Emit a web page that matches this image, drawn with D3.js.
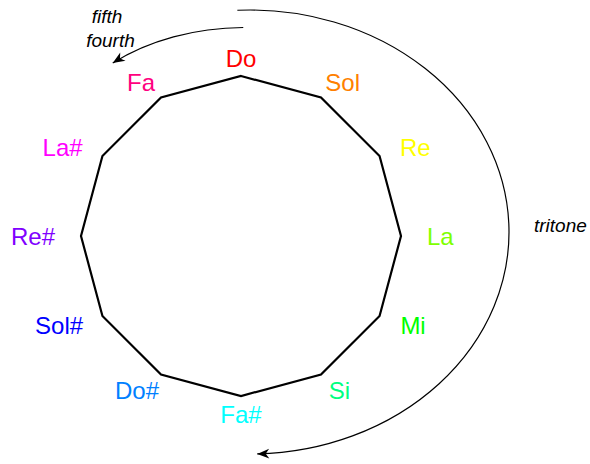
<!DOCTYPE html>
<html>
<head>
<meta charset="utf-8">
<script src="https://cdn.jsdelivr.net/npm/d3@7"></script>
<style>
    body { margin: 0; background: #fff; }
    svg { display: block; font-family: Arial, "Liberation Sans", sans-serif; }
</style>
</head>
<body>
<svg id="circle"></svg>
<script>
// notes in order of the circle of fifths, clockwise from the top
let notes = ["Do", "Sol", "Re", "La", "Mi", "Si", "Fa#", "Do#", "Sol#", "Re#", "La#", "Fa"];
let noteColors = ["#ff0000", "#ff8000", "#ffff00", "#80ff00", "#00ff00", "#00ff80",
                  "#00ffff", "#0080ff", "#0000ff", "#8000ff", "#ff00ff", "#ff0080"];
let stepLabels = ["fifth", "fourth"];
let tritoneLabel = "tritone";

function drawCircle(width, height) {
    let svg = d3.select("#circle")
                .attr("width", width)
                .attr("height", height);

    let center = { x: 241, y: 236 };
    let radius = 160;

    // index of note -> angle, clockwise from top
    let angle = d3.scaleLinear()
                    .domain([0, notes.length])
                    .range([0, 2 * Math.PI]);

    // arrow head used by both arcs
    svg.append("defs")
        .append("marker")
            .attr("id", "arrow")
            .attr("viewBox", "-13 -6 14 12")
            .attr("refX", 0)
            .attr("refY", 0)
            .attr("markerWidth", 14)
            .attr("markerHeight", 12)
            .attr("markerUnits", "userSpaceOnUse")
            .attr("orient", "auto")
        .append("path")
            .attr("d", "M0,0 L-12,-5 L-8.5,0 L-12,5 Z")
            .attr("fill", "#000");

    let g = svg.append("g")
                .attr("transform", `translate(${center.x},${center.y})`);

    // the dodecagon
    let polygon = d3.lineRadial()
                    .angle((d, i) => angle(i))
                    .radius(radius)
                    .curve(d3.curveLinearClosed);

    g.append("path")
        .datum(notes)
        .attr("d", polygon)
        .attr("fill", "none")
        .attr("stroke", "#000")
        .attr("stroke-width", 2.2)
        .attr("stroke-linejoin", "miter");

    // note labels, pushed out by half their width on the sides
    let labels = g.selectAll(".note")
                    .data(notes)
                    .enter()
                    .append("text")
                        .classed("note", true)
                        .attr("font-size", 24)
                        .attr("text-anchor", "middle")
                        .attr("dy", "0.36em")
                        .attr("fill", (d, i) => noteColors[i])
                        .text(d => d);

    labels.each(function(d, i) {
        let a = angle(i);
        let w = this.getComputedTextLength();
        d3.select(this)
            .attr("x", Math.sin(a) * (186 + w / 2))
            .attr("y", -Math.cos(a) * 178);
    });

    // elliptical arc with arrow at its end
    function arcPath(cx, cy, rx, ry, from, to) {
        let r = Math.PI / 180;
        let x0 = cx + rx * Math.cos(from * r), y0 = cy + ry * Math.sin(from * r);
        let x1 = cx + rx * Math.cos(to * r), y1 = cy + ry * Math.sin(to * r);
        let large = Math.abs(to - from) > 180 ? 1 : 0;
        let sweep = to > from ? 1 : 0;
        return `M${x0},${y0} A${rx},${ry} 0 ${large} ${sweep} ${x1},${y1}`;
    }

    // fifth / fourth step arc
    svg.append("path")
        .attr("d", arcPath(245, 169.5, 200, 142, -90.5, -131.4))
        .attr("fill", "none")
        .attr("stroke", "#000")
        .attr("stroke-width", 1.2)
        .attr("marker-end", "url(#arrow)");

    // tritone arc
    svg.append("path")
        .attr("d", arcPath(250, 232, 259, 222, -92.8, 88.4))
        .attr("fill", "none")
        .attr("stroke", "#000")
        .attr("stroke-width", 1.2)
        .attr("marker-end", "url(#arrow)");

    svg.selectAll(".step")
        .data(stepLabels)
        .enter()
        .append("text")
            .classed("step", true)
            .attr("x", (d, i) => 107 + i * 3.5)
            .attr("y", (d, i) => 23 + i * 24)
            .attr("text-anchor", "middle")
            .attr("font-size", 19)
            .attr("font-style", "italic")
            .attr("fill", "#000")
            .text(d => d);

    svg.append("text")
        .attr("x", 534)
        .attr("y", 232)
        .attr("font-size", 19)
        .attr("font-style", "italic")
        .attr("fill", "#000")
        .text(tritoneLabel);
}

drawCircle(590, 464);
</script>
</body>
</html>
